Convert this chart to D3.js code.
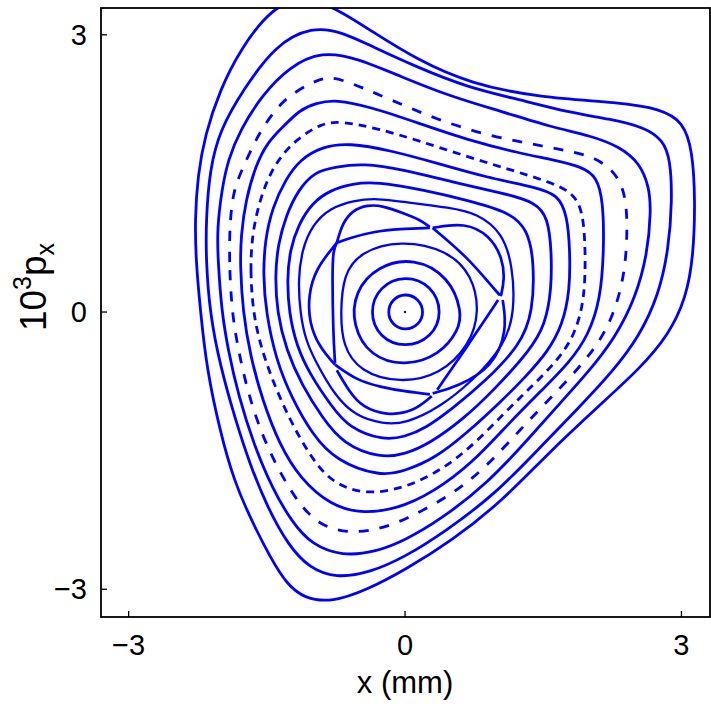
<!DOCTYPE html>
<html><head><meta charset="utf-8">
<script src="https://cdn.jsdelivr.net/npm/d3@7"></script>
<style>body{margin:0;background:#fff}</style>
</head><body><svg id="c" width="711" height="711"></svg>
<script>
// ---- data (x in mm, y = 10^3 px) ----
const xTicks = [-3, 0, 3];
const yTicks = [-3, 0, 3];
const centerPoint = [[0, 0]];

const O1 = [[-2.22,0],[-2.27,0.56],[-2.28,1.00],[-2.25,1.48],[-2.17,1.92],[-2.01,2.40],[-1.79,2.84],[-1.45,3.29],[-1.11,3.42],[-0.75,3.29],[-0.38,3.05],[0.13,2.73],[0.71,2.47],[1.46,2.32],[2.33,2.27],[2.77,2.20],[3.02,2.06],[3.12,1.75],[3.15,1.21],[3.13,0.60],[3.05,0.15],[2.86,-0.25],[2.55,-0.61],[2.12,-1.00],[1.54,-1.54],[1.05,-2.05],[0.50,-2.48],[0,-2.79],[-0.42,-3.01],[-0.79,-3.14],[-1.09,-3.10],[-1.28,-2.95],[-1.46,-2.66],[-1.66,-2.27],[-1.86,-1.82],[-2.01,-1.28],[-2.15,-0.63]];
const O2 = [[-2.12,0],[-2.16,0.56],[-2.16,1.00],[-2.12,1.54],[-2.01,1.97],[-1.76,2.40],[-1.41,2.89],[-1.01,3.09],[-0.68,3.03],[-0.35,2.87],[0.13,2.65],[0.68,2.43],[1.24,2.30],[1.78,2.16],[2.22,2.09],[2.60,2.00],[2.80,1.86],[2.88,1.65],[2.90,1.21],[2.86,0.67],[2.75,0.18],[2.55,-0.25],[2.25,-0.65],[1.88,-1.04],[1.48,-1.45],[0.98,-1.97],[0.43,-2.38],[0,-2.65],[-0.38,-2.82],[-0.75,-2.88],[-1.04,-2.77],[-1.27,-2.52],[-1.49,-2.12],[-1.68,-1.66],[-1.84,-1.17],[-2.01,-0.57]];
const O3 = [[-1.99,0],[-2.03,0.56],[-2.04,0.89],[-1.99,1.32],[-1.92,1.65],[-1.79,1.97],[-1.55,2.35],[-1.25,2.66],[-0.90,2.82],[-0.53,2.75],[-0.05,2.55],[0.50,2.33],[1.05,2.17],[1.59,2.00],[2.01,1.91],[2.33,1.79],[2.55,1.61],[2.65,1.35],[2.67,1.10],[2.63,0.62],[2.50,0.15],[2.28,-0.28],[1.99,-0.65],[1.66,-1.01],[1.36,-1.35],[0.90,-1.85],[0.38,-2.25],[0,-2.47],[-0.33,-2.60],[-0.68,-2.64],[-1.01,-2.52],[-1.23,-2.27],[-1.44,-1.91],[-1.64,-1.44],[-1.81,-0.90],[-1.92,-0.41]];
const O4 = [[-1.88,0],[-1.91,0.56],[-1.90,1.00],[-1.86,1.32],[-1.77,1.54],[-1.66,1.78],[-1.55,1.99],[-1.33,2.30],[-1.01,2.49],[-0.82,2.55],[-0.61,2.49],[-0.16,2.30],[0.35,2.08],[0.93,1.90],[1.53,1.79],[1.84,1.73],[2.06,1.67],[2.25,1.54],[2.35,1.38],[2.41,1.16],[2.41,0.67],[2.35,0.24],[2.20,-0.19],[1.95,-0.54],[1.59,-0.92],[1.27,-1.25],[0.87,-1.69],[0.49,-1.99],[0,-2.25],[-0.31,-2.36],[-0.61,-2.39],[-0.90,-2.32],[-1.12,-2.12],[-1.33,-1.79],[-1.53,-1.39],[-1.70,-0.90],[-1.81,-0.41]];
const O5 = [[-1.76,0],[-1.79,0.51],[-1.78,0.83],[-1.73,1.21],[-1.62,1.59],[-1.49,1.84],[-1.33,2.00],[-1.14,2.19],[-0.97,2.26],[-0.75,2.30],[-0.38,2.22],[0.13,2.05],[0.68,1.86],[1.24,1.72],[1.59,1.65],[1.93,1.57],[2.08,1.46],[2.15,1.21],[2.16,0.67],[2.12,0.13],[1.99,-0.25],[1.79,-0.54],[1.46,-0.87],[1.14,-1.19],[0.81,-1.55],[0.43,-1.87],[0,-2.11],[-0.46,-2.19],[-0.81,-2.09],[-1.14,-1.80],[-1.36,-1.44],[-1.55,-0.95],[-1.68,-0.47]];
const O6 = [[-1.65,0],[-1.68,0.45],[-1.66,0.83],[-1.59,1.16],[-1.49,1.45],[-1.36,1.67],[-1.19,1.86],[-0.90,2.05],[-0.68,2.06],[-0.31,1.99],[0.13,1.86],[0.68,1.68],[1.24,1.51],[1.59,1.40],[1.82,1.29],[1.93,1.10],[1.96,0.67],[1.95,0.13],[1.84,-0.25],[1.66,-0.52],[1.36,-0.82],[1.08,-1.09],[0.76,-1.42],[0.43,-1.69],[0,-1.91],[-0.46,-1.98],[-0.82,-1.83],[-1.04,-1.54],[-1.25,-1.17],[-1.44,-0.74],[-1.57,-0.36]];
const O7 = [[-1.51,0],[-1.54,0.40],[-1.52,0.78],[-1.44,1.13],[-1.30,1.43],[-1.14,1.65],[-0.90,1.79],[-0.61,1.83],[-0.16,1.75],[0.35,1.61],[0.87,1.46],[1.42,1.35],[1.66,1.27],[1.76,1.05],[1.79,0.67],[1.79,0.24],[1.71,-0.14],[1.55,-0.43],[1.30,-0.71],[1.04,-0.97],[0.67,-1.31],[0.33,-1.58],[0,-1.72],[-0.27,-1.78],[-0.75,-1.61],[-1.01,-1.32],[-1.23,-0.93],[-1.40,-0.52]];
const O8 = [[-1.39,0],[-1.41,0.40],[-1.38,0.73],[-1.29,1.05],[-1.16,1.32],[-0.98,1.52],[-0.75,1.57],[-0.46,1.61],[-0.01,1.54],[0.50,1.41],[1.05,1.29],[1.42,1.19],[1.55,1.02],[1.59,0.67],[1.59,0.24],[1.52,-0.14],[1.36,-0.41],[0.97,-0.84],[0.62,-1.17],[0.27,-1.42],[0,-1.54],[-0.27,-1.58],[-0.67,-1.43],[-0.90,-1.14],[-1.12,-0.79],[-1.29,-0.41]];
const O9 = [[-1.26,0],[-1.28,0.35],[-1.25,0.67],[-1.16,0.94],[-1.01,1.18],[-0.81,1.32],[-0.57,1.39],[-0.31,1.41],[0.21,1.32],[0.68,1.21],[1.14,1.08],[1.33,0.89],[1.40,0.56],[1.39,0],[1.25,-0.36],[0.87,-0.75],[0.52,-1.04],[0.22,-1.26],[0,-1.35],[-0.24,-1.39],[-0.61,-1.25],[-0.79,-1.03],[-1.03,-0.68],[-1.18,-0.36]];
const O10 = [[-1.14,0],[-1.16,0.35],[-1.12,0.67],[-1.01,0.94],[-0.81,1.13],[-0.54,1.21],[-0.31,1.23],[0,1.19],[0.49,1.13],[0.78,1.07],[1.06,0.86],[1.17,0.49],[1.19,0],[1.08,-0.36],[0.74,-0.74],[0.38,-1.03],[0,-1.21],[-0.24,-1.21],[-0.53,-1.13],[-0.76,-0.91],[-0.98,-0.52],[-1.08,-0.30]];
const C1 = [[0.21,0],[0.15,0.145],[0,0.205],[-0.14,0.14],[-0.195,0],[-0.14,-0.14],[0,-0.203],[0.15,-0.145]];
const C2 = [[0.41,0],[0.29,0.29],[0,0.40],[-0.28,0.28],[-0.39,0],[-0.28,-0.28],[0,-0.39],[0.29,-0.28]];
const C3 = [[0.62,0],[0.48,0.38],[0.10,0.59],[-0.30,0.50],[-0.55,0.22],[-0.57,-0.15],[-0.38,-0.48],[0,-0.59],[0.38,-0.46],[0.58,-0.20]];
const C4 = [[-0.70,0],[-0.67,0.40],[-0.49,0.65],[-0.05,0.78],[0.46,0.67],[0.73,0.40],[0.81,0],[0.70,-0.36],[0.38,-0.68],[-0.05,-0.77],[-0.49,-0.65],[-0.68,-0.36]];

// island chain edges (open arcs between hyperbolic points)
const islandTopOuter = [[-0.74,0.75],[-0.68,0.96],[-0.57,1.10],[-0.41,1.16],[-0.24,1.15],[-0.02,1.07],[0.16,1.00],[0.27,0.92]];
const islandTopInner = [[-0.74,0.75],[-0.60,0.80],[-0.35,0.87],[-0.05,0.90],[0.27,0.91]];
const islandURInner = [[0.30,0.91],[0.67,0.60],[0.95,0.27],[1.03,0.18]];
const islandUROuter = [[0.30,0.91],[0.65,0.97],[0.92,0.83],[1.06,0.58],[1.08,0.35],[1.04,0.17]];
const islandLRInner = [[1.01,0.13],[0.67,-0.38],[0.35,-0.84]];
const islandLROuter = [[1.06,0.13],[1.11,-0.20],[0.95,-0.60],[0.56,-0.81],[0.30,-0.88]];
const islandBotInner = [[0.27,-0.89],[0,-0.86],[-0.27,-0.81],[-0.52,-0.74],[-0.76,-0.57]];
const islandBotOuter = [[0.29,-0.91],[0.09,-1.08],[-0.20,-1.12],[-0.46,-1.03],[-0.60,-0.87],[-0.74,-0.63]];
const islandLeftInner = [[-0.76,-0.55],[-0.78,-0.23],[-0.79,0.42],[-0.78,0.67],[-0.74,0.75]];
const islandLeftOuter = [[-0.76,-0.57],[-0.93,-0.38],[-1.04,-0.12],[-1.05,0.18],[-0.97,0.47],[-0.74,0.75]];

// ---- drawing ----
const svg = d3.select("#c");
const L = 101, R = 710, T = 8, B = 617;
const x = d3.scaleLinear().domain([-3.3, 3.31]).range([L, R]);
const y = d3.scaleLinear().domain([-3.3, 3.29]).range([B, T]);
const blue = "#0000ff";
const font = "'Liberation Sans', Arial, sans-serif";

svg.append("defs").append("clipPath").attr("id","clip")
  .append("rect").attr("x",L).attr("y",T).attr("width",R-L).attr("height",B-T);
const g = svg.append("g").attr("clip-path","url(#clip)");

const closedLine = d3.line().x(d=>x(d[0])).y(d=>y(d[1])).curve(d3.curveBasisClosed);
const openLine = d3.line().x(d=>x(d[0])).y(d=>y(d[1])).curve(d3.curveBasis);

const closed = [
  {d:O1},{d:O2},{d:O3},{d:O4, dash:"10,11"},{d:O5},{d:O6, dash:"8,6"},{d:O7},{d:O8},{d:O9},{d:O10, w:2.3},
  {d:C1},{d:C2},{d:C3},{d:C4, w:2.3}
];
closed.forEach(c => {
  g.append("path").attr("d", closedLine(c.d)).attr("fill","none")
   .attr("stroke", blue).attr("stroke-width", c.w || 2.8)
   .attr("stroke-dasharray", c.dash || null);
});
const open = [islandTopOuter, islandTopInner, islandURInner, islandUROuter, islandLRInner, islandLROuter,
  islandBotInner, islandBotOuter, islandLeftInner, islandLeftOuter];
open.forEach(a => {
  g.append("path").attr("d", openLine(a)).attr("fill","none")
   .attr("stroke", blue).attr("stroke-width", 2.7);
});
g.selectAll("circle.c").data(centerPoint).enter().append("circle")
  .attr("cx", d=>x(d[0])).attr("cy", d=>y(d[1])).attr("r", 1.2).attr("fill", blue);

// frame
svg.append("rect").attr("x",L).attr("y",T).attr("width",R-L).attr("height",B-T)
  .attr("fill","none").attr("stroke","#000").attr("stroke-width",1.8);

// ticks
svg.selectAll("line.xt").data(xTicks).enter().append("line")
  .attr("x1", d=>x(d)).attr("x2", d=>x(d)).attr("y1", B).attr("y2", B-6)
  .attr("stroke","#000").attr("stroke-width",1.3);
svg.selectAll("line.yt").data(yTicks).enter().append("line")
  .attr("y1", d=>y(d)).attr("y2", d=>y(d)).attr("x1", L).attr("x2", L+6)
  .attr("stroke","#000").attr("stroke-width",1.3);

const fmt = d => d < 0 ? "\u2212" + Math.abs(d) : String(d);
svg.selectAll("text.xl").data(xTicks).enter().append("text")
  .attr("x", d=>x(d)).attr("y", 655).attr("text-anchor","middle")
  .attr("font-family", font).attr("font-size", 29).text(fmt);
svg.selectAll("text.yl").data(yTicks).enter().append("text")
  .attr("x", 87).attr("y", d=>y(d)+10).attr("text-anchor","end")
  .attr("font-family", font).attr("font-size", 29).text(fmt);

svg.append("text").attr("x", 405).attr("y", 693).attr("text-anchor","middle")
  .attr("font-family", font).attr("font-size", 31).text("x (mm)");

const yl = svg.append("text").attr("transform","translate(46,287) rotate(-90)")
  .attr("text-anchor","middle").attr("font-family", font).attr("font-size", 37);
yl.append("tspan").text("10");
yl.append("tspan").attr("font-size", 25).attr("dy", -15).text("3");
yl.append("tspan").attr("dy", 15).text("p");
yl.append("tspan").attr("font-size", 25).attr("dy", 8).text("x");
</script></body></html>
